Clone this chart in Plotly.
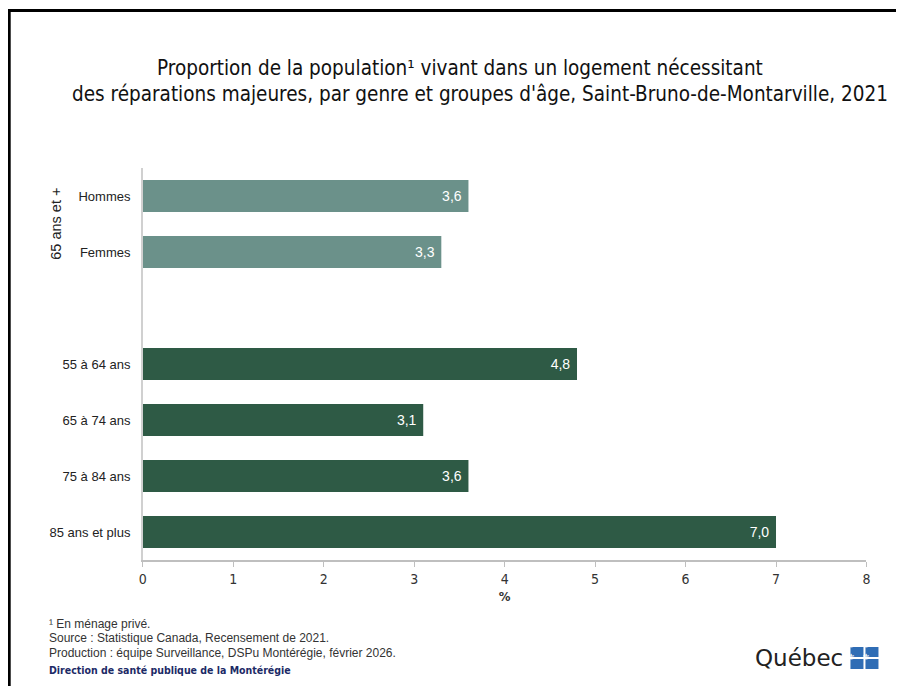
import plotly.graph_objects as go

W, H = 904, 686

cats_gender = ["Hommes", "Femmes"]
vals_gender = [3.6, 3.3]
cats_age = ["55 à 64 ans", "65 à 74 ans", "75 à 84 ans", "85 ans et plus"]
vals_age = [4.8, 3.1, 3.6, 7.0]
gap_cat = " "
cat_order = cats_gender + [gap_cat] + cats_age
x_ticks = [0, 1, 2, 3, 4, 5, 6, 7, 8]

NARROW = "DejaVu Sans Condensed, Liberation Sans Narrow, Arial, sans-serif"
SANS = "Liberation Sans, Arial, sans-serif"

def px(x):
    return (x - 12.3) / 895.2

def py(y):
    return 1 - (y - 8) / H

fig = go.Figure()
fig.add_trace(go.Bar(
    y=cats_gender, x=vals_gender, orientation="h",
    marker=dict(color="#6b918a", line=dict(width=0)),
    width=0.57, texttemplate="%{x:.1f} ", textposition="inside",
    insidetextanchor="end", textfont=dict(color="white", size=14, family=SANS),
    hoverinfo="skip",
))
fig.add_trace(go.Bar(
    y=cats_age, x=vals_age, orientation="h",
    marker=dict(color="#2e5a45", line=dict(width=0)),
    width=0.57, texttemplate="%{x:.1f} ", textposition="inside",
    insidetextanchor="end", textfont=dict(color="white", size=14, family=SANS),
    hoverinfo="skip",
))

fig.update_layout(
    width=W, height=H,
    margin=dict(l=0, r=0, t=0, b=0),
    paper_bgcolor="white", plot_bgcolor="white",
    showlegend=False, barmode="overlay",
    separators=", ",
    uniformtext=dict(mode="show", minsize=14),
    xaxis=dict(
        domain=[px(143), px(866)], range=[0, 8],
        tickvals=x_ticks, ticks="outside", ticklen=5, tickcolor="#bfbfbf",
        showline=True, linecolor="#bfbfbf", linewidth=1.5,
        showgrid=False, zeroline=False,
        tickfont=dict(family=NARROW, size=14, color="#333333"),
        title=dict(text="<b>%</b>", font=dict(family=NARROW, size=13, color="#333333"), standoff=6),
    ),
    yaxis=dict(
        domain=[py(560), py(168)],
        type="category", categoryorder="array", categoryarray=cat_order[::-1],
        range=[-0.5, 6.5],
        showline=True, linecolor="#d0d0d0", linewidth=1.5,
        ticks="", showgrid=False, zeroline=False,
        ticklabelstandoff=8,
        tickfont=dict(family=SANS, size=13, color="#222222"),
    ),
)

annotations = [
    dict(text="Proportion de la population¹ vivant dans un logement nécessitant",
         x=px(460), y=py(68), font=dict(family=NARROW, size=20.5, color="#111111")),
    dict(text="des réparations majeures, par genre et groupes d'âge, Saint-Bruno-de-Montarville, 2021",
         x=px(480), y=py(94), font=dict(family=NARROW, size=20.5, color="#111111")),
    dict(text="65 ans et +", x=px(56), y=py(224), textangle=-90,
         font=dict(family=SANS, size=14.5, color="#222222")),
    dict(text="¹ En ménage privé.", x=px(47), y=py(624), xanchor="left",
         font=dict(family=SANS, size=12, color="#333333")),
    dict(text="Source : Statistique Canada, Recensement de 2021.", x=px(47), y=py(638), xanchor="left",
         font=dict(family=SANS, size=12, color="#333333")),
    dict(text="Production : équipe Surveillance, DSPu Montérégie, février 2026.", x=px(47), y=py(653), xanchor="left",
         font=dict(family=SANS, size=12, color="#333333")),
    dict(text="<b>Direction de santé publique de la Montérégie</b>", x=px(47), y=py(670), xanchor="left",
         font=dict(family=NARROW, size=10.5, color="#1c2a66")),
    dict(text="Québec", x=px(845), y=py(658), xanchor="right",
         font=dict(family="DejaVu Sans, sans-serif", size=23, color="#222222")),
]
for a in annotations:
    a.setdefault("xanchor", "center")
    a.update(xref="paper", yref="paper", yanchor="middle", showarrow=False)
fig.update_layout(annotations=annotations)

shapes = [
    dict(type="rect", xref="paper", yref="paper", x0=px(9.5), x1=px(960), y0=py(720), y1=py(10.5),
         line=dict(color="black", width=3), fillcolor="rgba(0,0,0,0)", layer="above"),
]
flag = [(850, 647), (865, 647), (850, 659), (865, 659)]
for (x0, y0) in flag:
    shapes.append(dict(type="rect", xref="paper", yref="paper", x0=px(x0), x1=px(x0 + 13),
                       y0=py(y0 + 10), y1=py(y0), line=dict(width=0), fillcolor="#2f6db5"))
fig.update_layout(shapes=shapes)
for (x0, y0) in flag:
    fig.add_annotation(text="⚜", x=px(x0 + 6.5), y=py(y0 + 5), xref="paper", yref="paper",
                       showarrow=False, font=dict(size=9, color="white", family="DejaVu Sans"))

fig.write_html("out.html")
